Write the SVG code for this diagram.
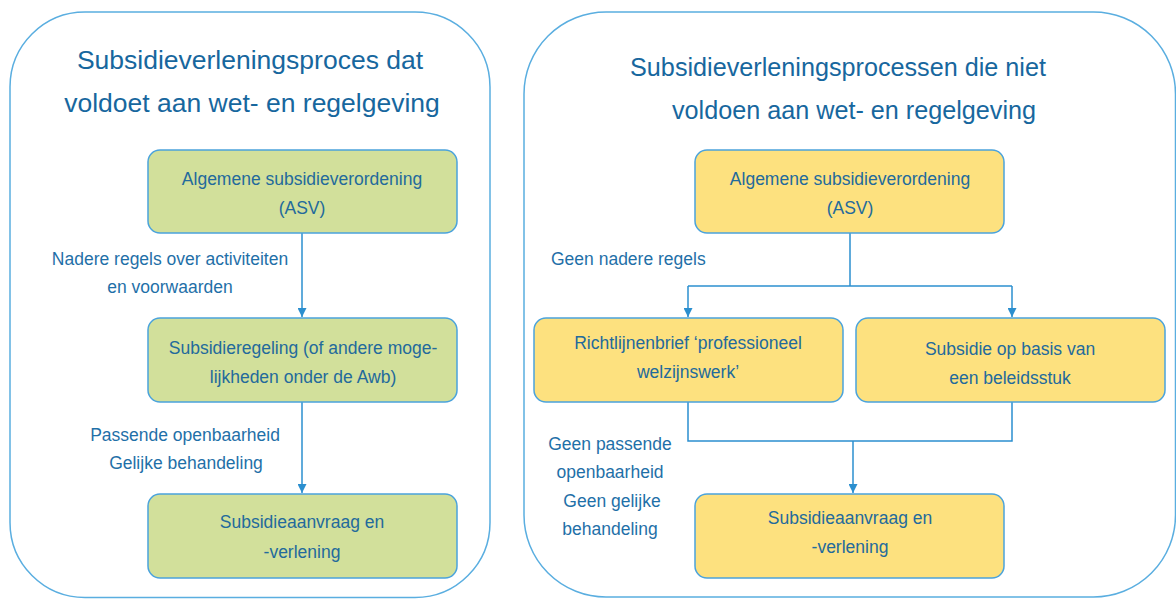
<svg xmlns="http://www.w3.org/2000/svg" width="1176" height="599" viewBox="0 0 1176 599">
<defs>
<marker id="arr" viewBox="0 0 10 10" refX="10" refY="5" markerWidth="9" markerHeight="9" markerUnits="userSpaceOnUse" orient="auto">
<path d="M0,0 L10,5 L0,10 z" fill="#2b8fcf"/>
</marker>
<style>
.panel{fill:#fff;stroke:#5aaee0;stroke-width:1.5}
.g{fill:#d2e09b;stroke:#4ba3dc;stroke-width:1.5}
.y{fill:#fde17f;stroke:#4ba3dc;stroke-width:1.5}
.title{font-family:"Liberation Sans",Arial,sans-serif;font-size:26.5px;fill:#17679e;text-anchor:middle}
.title2{font-family:"Liberation Sans",Arial,sans-serif;font-size:25.2px;fill:#17679e;text-anchor:middle}
.t{font-family:"Liberation Sans",Arial,sans-serif;font-size:17.5px;fill:#236a9c;text-anchor:middle}
.lbl{font-family:"Liberation Sans",Arial,sans-serif;font-size:17.5px;fill:#1f70a8;text-anchor:middle}
.c{fill:none;stroke:#2b8fcf;stroke-width:1.5}
</style>
</defs>
<rect width="1176" height="599" fill="#fff"/>
<g id="panel-left">
<rect class="panel" x="10" y="12" width="480" height="585.5" rx="75"/>
<text class="title" x="250" y="69">Subsidieverleningsproces dat</text>
<text class="title" x="252" y="112">voldoet aan wet- en regelgeving</text>
</g>
<g id="panel-right">
<rect class="panel" x="524" y="12" width="651.5" height="585" rx="82"/>
<text class="title2" x="838" y="76">Subsidieverleningsprocessen die niet</text>
<text class="title2" x="854" y="119">voldoen aan wet- en regelgeving</text>
</g>
<g id="connectors">
<path class="c" d="M302,233 V317" marker-end="url(#arr)"/>
<path class="c" d="M302,402 V493" marker-end="url(#arr)"/>
<path class="c" d="M850,233 V286"/>
<path class="c" d="M688,286 H1012"/>
<path class="c" d="M688,286 V317" marker-end="url(#arr)"/>
<path class="c" d="M1012,286 V317" marker-end="url(#arr)"/>
<path class="c" d="M688,402 V441 H1012 V402"/>
<path class="c" d="M853,441 V493" marker-end="url(#arr)"/>
<text class="lbl" x="170" y="265">Nadere regels over activiteiten</text>
<text class="lbl" x="170" y="293">en voorwaarden</text>
<text class="lbl" x="185" y="441">Passende openbaarheid</text>
<text class="lbl" x="186" y="469">Gelijke behandeling</text>
<text class="lbl" x="551" y="265" style="text-anchor:start">Geen nadere regels</text>
<text class="lbl" x="610" y="450">Geen passende</text>
<text class="lbl" x="610" y="478">openbaarheid</text>
<text class="lbl" x="612" y="507">Geen gelijke</text>
<text class="lbl" x="610" y="535">behandeling</text>
</g>
<g id="node-asv-left">
<rect class="g" x="148" y="150" width="309" height="83" rx="12"/>
<text class="t" x="302" y="185">Algemene subsidieverordening</text>
<text class="t" x="302" y="214">(ASV)</text>
</g>
<g id="node-regeling">
<rect class="g" x="148" y="318" width="309" height="84" rx="12"/>
<text class="t" x="303" y="354">Subsidieregeling (of andere moge-</text>
<text class="t" x="303" y="383">lijkheden onder de Awb)</text>
</g>
<g id="node-aanvraag-left">
<rect class="g" x="148" y="494" width="309" height="84" rx="12"/>
<text class="t" x="302" y="528">Subsidieaanvraag en</text>
<text class="t" x="302" y="558">-verlening</text>
</g>
<g id="node-asv-right">
<rect class="y" x="695" y="150" width="309" height="83" rx="12"/>
<text class="t" x="850" y="185">Algemene subsidieverordening</text>
<text class="t" x="850" y="214">(ASV)</text>
</g>
<g id="node-richtlijn">
<rect class="y" x="534" y="318" width="309" height="84" rx="12"/>
<text class="t" x="688" y="349">Richtlijnenbrief ‘professioneel</text>
<text class="t" x="688" y="378">welzijnswerk’</text>
</g>
<g id="node-beleid">
<rect class="y" x="856" y="318" width="309" height="84" rx="12"/>
<text class="t" x="1010" y="355">Subsidie op basis van</text>
<text class="t" x="1010" y="384">een beleidsstuk</text>
</g>
<g id="node-aanvraag-right">
<rect class="y" x="695" y="494" width="309" height="84" rx="12"/>
<text class="t" x="850" y="524">Subsidieaanvraag en</text>
<text class="t" x="850" y="553">-verlening</text>
</g>
</svg>
